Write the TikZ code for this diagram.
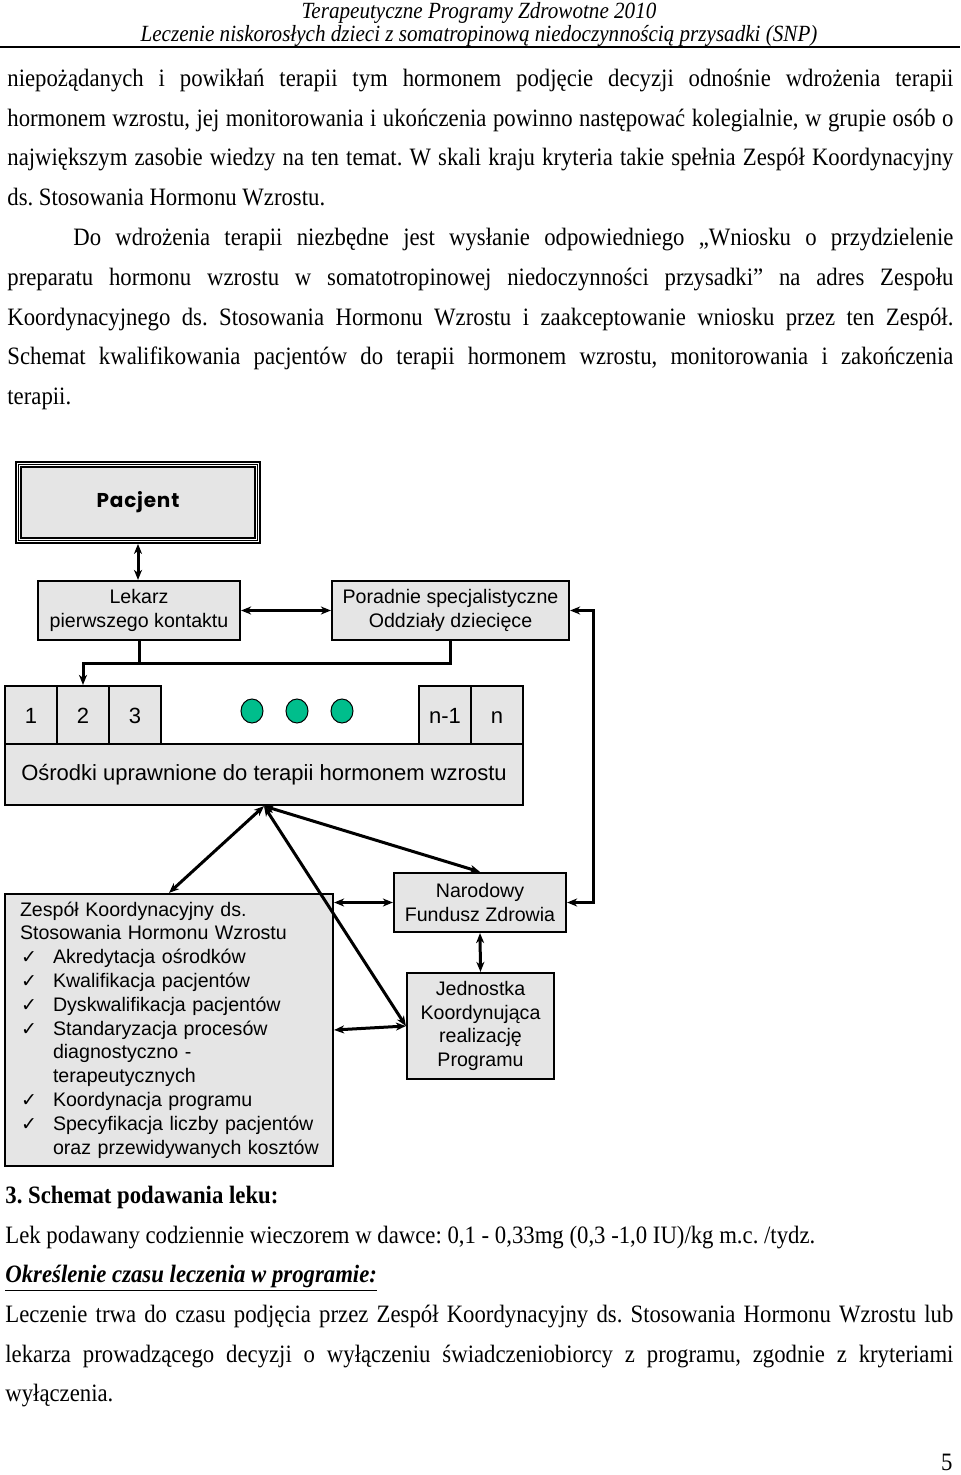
\documentclass[tikz,border=0pt]{standalone}
\usepackage{fontspec}
\setmainfont{Liberation Serif}[FakeStretch=0.91]
\setsansfont{Liberation Sans}
\newfontfamily\checkfont{DejaVu Sans}
\newfontfamily\pacfont{Poppins}[LetterSpace=4]
\usetikzlibrary{arrows.meta, positioning, calc, shapes.geometric}
\definecolor{BoxGray}{RGB}{229,229,229}
\definecolor{DotGreen}{RGB}{0,190,140}

\newcommand{\zchk}{\makebox[16.5pt][l]{\hspace{0.5pt}{\checkfont\fontsize{9.5}{11.9}\selectfont ✓}}}
\newcommand{\zind}{\hspace*{16.5pt}}
\newcommand{\jline}[2]{\makebox[#1][s]{#2}}
\frenchspacing

\tikzset{
  box/.style={draw, line width=1.1pt, fill=BoxGray, inner sep=0pt, align=center,
    font=\sffamily\fontsize{9.8}{11.8}\selectfont},
  cell/.style={box, minimum width=26pt, minimum height=29pt, text height=8pt, text depth=0pt,
    font=\sffamily\fontsize{11}{13}\selectfont},
  frame/.style={draw, line width=0.9pt, inner sep=0pt},
  dot/.style={ellipse, draw, line width=0.5pt, fill=DotGreen, inner sep=0pt, minimum width=11pt, minimum height=12pt},
  link/.style={line width=1.5pt, {Stealth[length=5pt,width=4pt,inset=1.5pt]}-{Stealth[length=5pt,width=4pt,inset=1.5pt]}},
  feed/.style={line width=1.5pt, -{Stealth[length=5pt,width=4pt,inset=1.5pt]}},
  plain/.style={line width=1.5pt},
  body/.style={anchor=base west, inner sep=0pt, font=\fontsize{12.5}{14}\selectfont},
  head/.style={anchor=base, inner sep=0pt, font=\itshape\fontsize{11.6}{13}\selectfont}
}

\begin{document}
\begin{tikzpicture}[x=0.5pt, y=-0.5pt]
\path[use as bounding box, fill=white] (0,0) rectangle (960,1475);

% header
\node[head] (h1) at (479,19) {Terapeutyczne Programy Zdrowotne 2010};
\node[head] (h2) at (479,42) {Leczenie niskorosłych dzieci z somatropinową niedoczynnością przysadki (SNP)};
\draw[line width=1pt] (0,47.5) -- (960,47.5);

% text above the scheme
\node[body] (p1) at (7,87) {\jline{473pt}{niepożądanych i powikłań terapii tym hormonem podjęcie decyzji odnośnie wdrożenia terapii}};
\node[body] (p2) at (7,127) {\jline{473pt}{hormonem wzrostu, jej monitorowania i ukończenia powinno następować kolegialnie, w grupie osób o}};
\node[body] (p3) at (7,166) {\jline{473pt}{największym zasobie wiedzy na ten temat. W skali kraju kryteria takie spełnia Zespół Koordynacyjny}};
\node[body] (p4) at (7,206) {ds. Stosowania Hormonu Wzrostu.};
\node[body] (p5) at (73,246) {\jline{440pt}{Do wdrożenia terapii niezbędne jest wysłanie odpowiedniego „Wniosku o przydzielenie}};
\node[body] (p6) at (7,286) {\jline{473pt}{preparatu hormonu wzrostu w somatotropinowej niedoczynności przysadki” na adres Zespołu}};
\node[body] (p7) at (7,326) {\jline{473pt}{Koordynacyjnego ds. Stosowania Hormonu Wzrostu i zaakceptowanie wniosku przez ten Zespół.}};
\node[body] (p8) at (7,365) {\jline{473pt}{Schemat kwalifikowania pacjentów do terapii hormonem wzrostu, monitorowania i zakończenia}};
\node[body] (p9) at (7,405) {terapii.};

% scheme
\node[frame, minimum width=122pt, minimum height=40.5pt] (pacjent) at (138,502.5) {};
\node[frame, minimum width=119.5pt, minimum height=38pt] (pacmid) at (pacjent.center) {};
\node[box, line width=0.6pt, minimum width=117pt, minimum height=35.5pt,
  font=\pacfont\bfseries\fontsize{10}{12}\selectfont] (pactext) at (pacjent.center) {Pacjent};

\node[box, minimum width=101pt, minimum height=29.5pt] (lekarz) at (139,610.5) {Lekarz\\pierwszego kontaktu};
\node[box, minimum width=118.5pt, minimum height=29.5pt] (poradnie) at (450.5,610.5) {Poradnie specjalistyczne\\Oddziały dziecięce};

\node[cell] (c1) at (31,715) {1};
\node[cell] (c2) at (83,715) {2};
\node[cell] (c3) at (135,715) {3};
\node[cell] (cn1) at (445,715) {n-1};
\node[cell] (cn) at (497,715) {n};
\node[dot] (d1) at (252,711) {};
\node[dot] (d2) at (297,711) {};
\node[dot] (d3) at (342,711) {};
\node[box, minimum width=259pt, minimum height=30.5pt, font=\sffamily\fontsize{11}{13}\selectfont] (osrodki) at (264,774.5)
  {Ośrodki uprawnione do terapii hormonem wzrostu};

\node[box, minimum width=164pt, minimum height=136pt, text width=149pt, align=left,
  font=\sffamily\fontsize{9.8}{11.9}\selectfont] (zespol) at (169,1030)
  {Zespół Koordynacyjny ds.\\
   Stosowania Hormonu Wzrostu\\
   \zchk Akredytacja ośrodków\\
   \zchk Kwalifikacja pacjentów\\
   \zchk Dyskwalifikacja pacjentów\\
   \zchk Standaryzacja procesów\\
   \zind diagnostyczno -\\
   \zind terapeutycznych\\
   \zchk Koordynacja programu\\
   \zchk Specyfikacja liczby pacjentów\\
   \zind\mbox{oraz przewidywanych kosztów}};
\node[box, minimum width=86pt, minimum height=29.5pt] (nfz) at (480,902.5) {Narodowy\\Fundusz Zdrowia};
\node[box, minimum width=73.5pt, minimum height=53pt] (jedn) at (480.5,1026) {Jednostka\\Koordynująca\\realizację\\Programu};

\draw[link] (pacjent.south) -- (pacjent.south |- lekarz.north);
\draw[link] (lekarz.east) -- (poradnie.west);
\draw[link] (poradnie.east) -- ++(23,0) |- (nfz.east);
\coordinate (bus) at ($(poradnie.south)+(0,22)$);
\draw[plain] (lekarz.south) -- (lekarz.south |- bus);
\draw[feed] (poradnie.south) -- (bus) -| (c2.north);
\draw[link] (osrodki.south) -- (zespol.north);
\draw[link] (osrodki.south) -- (nfz.north);
\draw[link] (osrodki.south) -- (jedn.west);
\draw[link] (zespol.east |- nfz.west) -- (nfz.west);
\draw[link] (nfz.south) -- (jedn.north);
\draw[link] (zespol.east) -- (jedn.west);

% text below the scheme
\node[body] (s1) at (5,1203) {\bfseries 3. Schemat podawania leku:};
\node[body] (s2) at (5,1243) {Lek podawany codziennie wieczorem w dawce: 0,1 - 0,33mg (0,3 -1,0 IU)/kg m.c. /tydz.};
\node[body] (s3) at (5,1282) {\bfseries\itshape\underline{Określenie czasu leczenia w programie:}};
\node[body] (s4) at (5,1322) {\jline{474pt}{Leczenie trwa do czasu podjęcia przez Zespół Koordynacyjny ds. Stosowania Hormonu Wzrostu lub}};
\node[body] (s5) at (5,1362) {\jline{474pt}{lekarza prowadzącego decyzji o wyłączeniu świadczeniobiorcy z programu, zgodnie z kryteriami}};
\node[body] (s6) at (5,1401) {wyłączenia.};
\node[body, anchor=base east] (pg) at (953,1470) {5};
\end{tikzpicture}
\end{document}
